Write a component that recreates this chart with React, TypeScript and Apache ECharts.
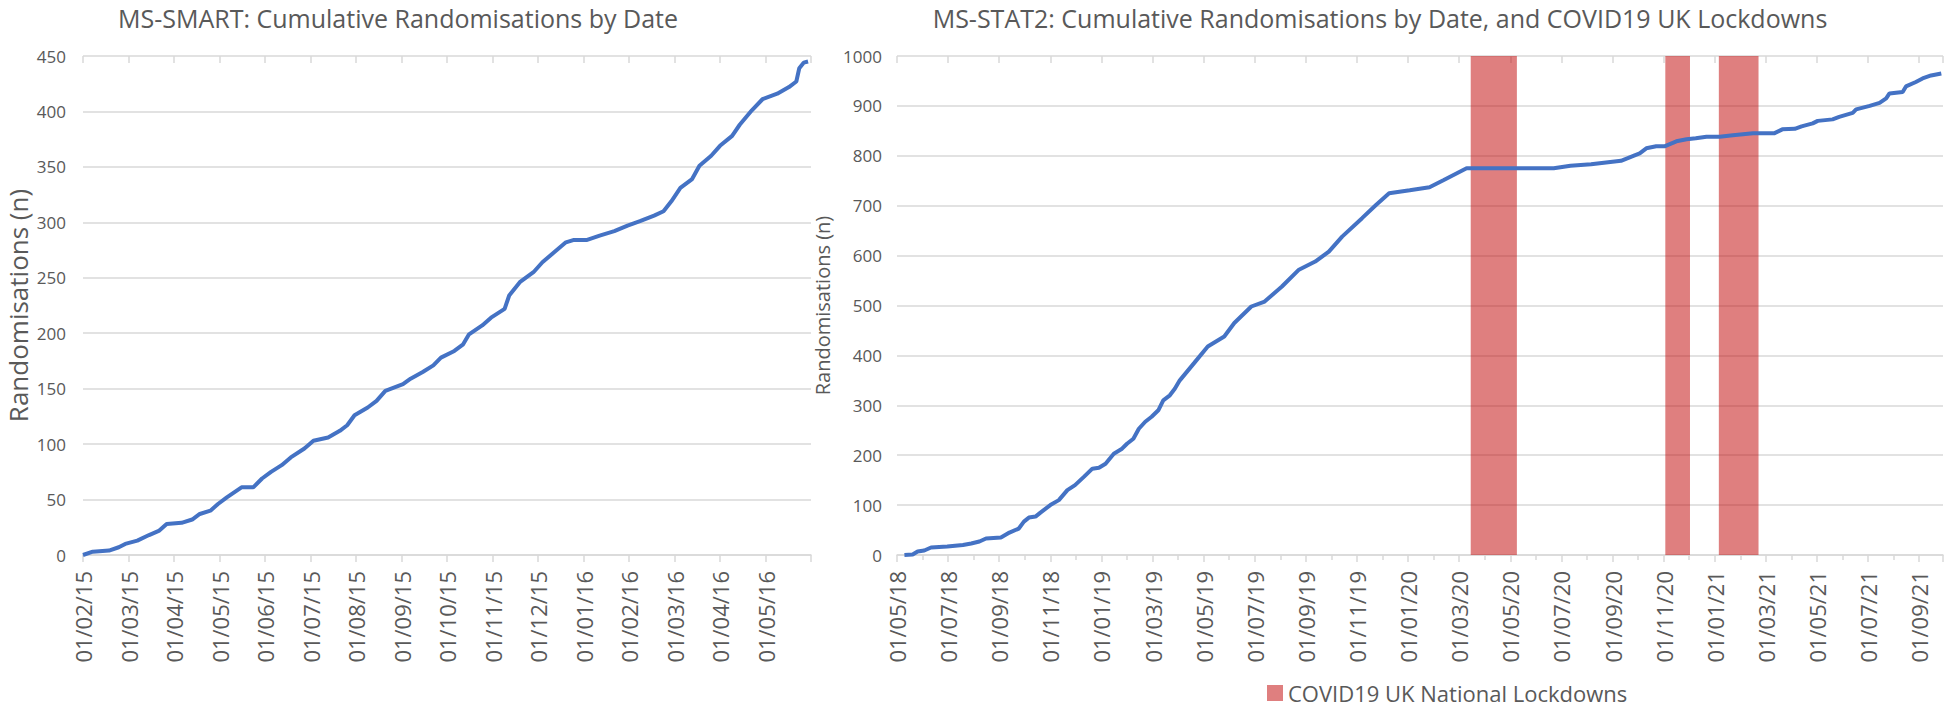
import React, { useEffect, useRef } from 'react';
import * as echarts from 'echarts';

// ---------- Data ----------
const smartTitle = 'MS-SMART: Cumulative Randomisations by Date';
const stat2Title = 'MS-STAT2: Cumulative Randomisations by Date, and COVID19 UK Lockdowns';
const yAxisTitle = 'Randomisations (n)';
const lockdownName = 'COVID19 UK National Lockdowns';

const smartDates = [
  '2015-02-01', '2015-02-07', '2015-02-17', '2015-02-23', '2015-02-27', '2015-03-07', '2015-03-15', '2015-03-22', '2015-03-27', '2015-04-06',
  '2015-04-13', '2015-04-18', '2015-04-25', '2015-04-30', '2015-05-06', '2015-05-16', '2015-05-24', '2015-05-30', '2015-06-05', '2015-06-12',
  '2015-06-18', '2015-06-27', '2015-07-03', '2015-07-13', '2015-07-21', '2015-07-26', '2015-07-31', '2015-08-09', '2015-08-15', '2015-08-21',
  '2015-09-02', '2015-09-07', '2015-09-15', '2015-09-22', '2015-09-27', '2015-10-06', '2015-10-12', '2015-10-16', '2015-10-25', '2015-10-31',
  '2015-11-09', '2015-11-12', '2015-11-19', '2015-11-28', '2015-12-04', '2015-12-12', '2015-12-20', '2015-12-25', '2016-01-03', '2016-01-12',
  '2016-01-22', '2016-01-31', '2016-02-08', '2016-02-17', '2016-02-23', '2016-02-28', '2016-03-05', '2016-03-13', '2016-03-18', '2016-03-26',
  '2016-04-01', '2016-04-09', '2016-04-14', '2016-04-22', '2016-04-29', '2016-05-09', '2016-05-17', '2016-05-22', '2016-05-24', '2016-05-27',
  '2016-05-30',
];
const smartCounts = [
  0, 3, 4, 7, 10, 13, 18, 22, 28, 29,
  32, 37, 40, 46, 52, 61, 61, 69, 75, 81,
  88, 96, 103, 106, 112, 117, 126, 133, 139, 148,
  154, 159, 165, 171, 178, 184, 190, 199, 207, 214,
  222, 234, 246, 255, 264, 273, 282, 284, 284, 288,
  292, 297, 301, 306, 310, 319, 331, 339, 351, 360,
  369, 378, 388, 401, 411, 416, 422, 427, 439, 444,
  445,
];

const stat2Dates = [
  '2018-05-10', '2018-05-20', '2018-05-26', '2018-06-03', '2018-06-11', '2018-06-30', '2018-07-19', '2018-07-29', '2018-08-08', '2018-08-16',
  '2018-09-03', '2018-09-13', '2018-09-24', '2018-09-30', '2018-10-06', '2018-10-14', '2018-10-20', '2018-11-01', '2018-11-11', '2018-11-21',
  '2018-11-30', '2018-12-11', '2018-12-21', '2018-12-29', '2019-01-06', '2019-01-16', '2019-01-26', '2019-02-01', '2019-02-08', '2019-02-14',
  '2019-02-21', '2019-02-28', '2019-03-08', '2019-03-14', '2019-03-22', '2019-03-28', '2019-04-03', '2019-04-20', '2019-05-06', '2019-05-26',
  '2019-06-07', '2019-06-27', '2019-07-13', '2019-08-03', '2019-08-23', '2019-09-12', '2019-09-28', '2019-10-14', '2019-11-07', '2019-11-23',
  '2019-12-09', '2020-01-03', '2020-01-27', '2020-02-12', '2020-03-10', '2020-04-23', '2020-06-22', '2020-07-12', '2020-08-06', '2020-09-11',
  '2020-09-27', '2020-10-03', '2020-10-11', '2020-10-23', '2020-11-02', '2020-11-16', '2020-11-28', '2020-12-09', '2020-12-22', '2021-01-07',
  '2021-01-23', '2021-02-15', '2021-03-11', '2021-03-21', '2021-04-05', '2021-04-13', '2021-04-26', '2021-05-02', '2021-05-20', '2021-05-28',
  '2021-06-13', '2021-06-17', '2021-07-03', '2021-07-15', '2021-07-23', '2021-07-27', '2021-08-12', '2021-08-16', '2021-08-28', '2021-09-05',
  '2021-09-15', '2021-09-27',
];
const stat2Counts = [
  0, 1, 7, 9, 15, 17, 20, 23, 27, 33,
  35, 45, 53, 67, 75, 77, 85, 100, 110, 130,
  140, 157, 173, 175, 183, 203, 213, 223, 233, 253,
  267, 277, 290, 310, 320, 333, 350, 385, 418, 438,
  465, 498, 508, 538, 571, 588, 608, 638, 675, 701,
  725, 731, 737, 751, 775, 775, 775, 780, 783, 790,
  801, 805, 815, 819, 819, 829, 833, 835, 838, 838,
  841, 845, 845, 853, 854, 859, 865, 870, 873, 878,
  886, 893, 900, 906, 915, 925, 928, 939, 948, 955,
  961, 965,
];

const lockdownStarts = ['2020-03-15', '2020-11-03', '2021-01-06'];
const lockdownEnds = ['2020-05-09', '2020-12-02', '2021-02-21'];

const smartAxisStart = '2015-02-01';
const smartAxisEnd = '2016-06-01';
const stat2AxisStart = '2018-05-01';
const stat2AxisEnd = '2021-09-29';

const smartYMax = 450;
const smartYStep = 50;
const stat2YMax = 1000;
const stat2YStep = 100;

// ---------- Helpers ----------
// Convert a date to a fractional month index (months since Jan 2000)
function monthIndex(s: string): number {
  const [y, m, d] = s.split('-').map(Number);
  const dim = new Date(Date.UTC(y, m, 0)).getUTCDate();
  return (y - 2000) * 12 + (m - 1) + (d - 1) / dim;
}
const pad = (n: number) => (n < 10 ? '0' + n : '' + n);
function makeFormatter(maxIdx: number) {
  return (v: number) => {
    const r = Math.round(v);
    if (Math.abs(v - r) > 1e-6 || r >= maxIdx) return '';
    const y = Math.floor(r / 12);
    const m = r - y * 12 + 1;
    return `01/${pad(m)}/${pad(y % 100)}`;
  };
}

const GRID_COLOR = '#D9D9D9';
const TEXT_COLOR = '#595959';
const LINE_COLOR = '#4472C4';
const LOCK_COLOR = 'rgba(192,0,0,0.5)';
const FONT = "'Open Sans', 'Noto Sans', sans-serif";

export default function App() {
  const ref = useRef<HTMLDivElement>(null);

  useEffect(() => {
    if (!ref.current) return;
    const chart = echarts.init(ref.current, undefined, { renderer: 'svg' });

    const sMin = monthIndex(smartAxisStart);
    const sMax = monthIndex(smartAxisEnd);
    const tMin = monthIndex(stat2AxisStart);
    const tMax = monthIndex(stat2AxisEnd);

    const smartData = smartDates.map((d, i) => [monthIndex(d), smartCounts[i]]);
    const stat2Data = stat2Dates.map((d, i) => [monthIndex(d), stat2Counts[i]]);
    const lockAreas = lockdownStarts.map((s, i) => [
      { xAxis: monthIndex(s) },
      { xAxis: monthIndex(lockdownEnds[i]) },
    ]);

    const baseX = (grid: number, min: number, max: number, interval: number) => ({
      type: 'value',
      gridIndex: grid,
      min,
      max,
      interval,
      axisLine: { show: true, lineStyle: { color: GRID_COLOR, width: 1.5 } },
      axisTick: { show: true, length: 7, lineStyle: { color: GRID_COLOR, width: 1.5 } },
      splitLine: { show: false },
    });

    const option: any = {
      animation: false,
      textStyle: { fontFamily: FONT },
      title: [
        {
          text: smartTitle,
          left: 398,
          top: 5,
          textAlign: 'center',
          padding: 0,
          textStyle: { fontSize: 25, fontWeight: 'normal', color: TEXT_COLOR, fontFamily: FONT },
        },
        {
          text: stat2Title,
          left: 1380,
          top: 5,
          textAlign: 'center',
          padding: 0,
          textStyle: { fontSize: 25, fontWeight: 'normal', color: TEXT_COLOR, fontFamily: FONT },
        },
      ],
      legend: {
        data: [lockdownName],
        left: 1267,
        top: 682,
        padding: 0,
        icon: 'rect',
        itemWidth: 16,
        itemHeight: 16,
        textStyle: { fontSize: 22, color: TEXT_COLOR, fontFamily: FONT },
      },
      grid: [
        { left: 83, top: 56, width: 728, height: 499 },
        { left: 897, top: 56, width: 1046, height: 499 },
      ],
      xAxis: [
        {
          ...baseX(0, sMin, sMax, 1),
          axisLabel: {
            rotate: 90,
            margin: 16,
            fontSize: 22,
            color: TEXT_COLOR,
            fontFamily: FONT,
            formatter: makeFormatter(Math.round(sMax)),
          },
        },
        {
          ...baseX(1, tMin, tMax, 2),
          minorTick: { show: true, splitNumber: 2, length: 5, lineStyle: { color: GRID_COLOR, width: 1.5 } },
          axisLabel: {
            rotate: 90,
            margin: 16,
            fontSize: 22,
            color: TEXT_COLOR,
            fontFamily: FONT,
            formatter: makeFormatter(1e9),
          },
        },
        {
          ...baseX(0, sMin, sMax, 1),
          axisLine: { show: false },
          axisTick: { show: true, inside: true, length: 7, lineStyle: { color: GRID_COLOR, width: 1.5 } },
          axisLabel: { show: false },
        },
        {
          ...baseX(1, tMin, tMax, 2),
          axisLine: { show: false },
          axisTick: { show: true, inside: true, length: 7, lineStyle: { color: GRID_COLOR, width: 1.5 } },
          axisLabel: { show: false },
        },
      ],
      yAxis: [
        {
          type: 'value',
          gridIndex: 0,
          min: 0,
          max: smartYMax,
          interval: smartYStep,
          name: yAxisTitle,
          nameLocation: 'middle',
          nameGap: 52,
          nameTextStyle: { fontSize: 26, color: TEXT_COLOR, fontFamily: FONT },
          axisLine: { show: false },
          axisTick: { show: false },
          axisLabel: { fontSize: 17, color: TEXT_COLOR, margin: 17, fontFamily: FONT, formatter: (v: number) => String(v) },
          splitLine: { lineStyle: { color: GRID_COLOR, width: 1.5 } },
        },
        {
          type: 'value',
          gridIndex: 1,
          min: 0,
          max: stat2YMax,
          interval: stat2YStep,
          name: yAxisTitle,
          nameLocation: 'middle',
          nameGap: 62,
          nameTextStyle: { fontSize: 20, color: TEXT_COLOR, fontFamily: FONT },
          axisLine: { show: false },
          axisTick: { show: false },
          axisLabel: { fontSize: 17, color: TEXT_COLOR, margin: 15, fontFamily: FONT, formatter: (v: number) => String(v) },
          splitLine: { lineStyle: { color: GRID_COLOR, width: 1.5 } },
        },
      ],
      series: [
        {
          name: 'MS-SMART',
          type: 'line',
          xAxisIndex: 0,
          yAxisIndex: 0,
          data: smartData,
          showSymbol: false,
          lineStyle: { color: LINE_COLOR, width: 4 },
          itemStyle: { color: LINE_COLOR },
          z: 3,
        },
        {
          name: lockdownName,
          type: 'line',
          xAxisIndex: 1,
          yAxisIndex: 1,
          data: [],
          itemStyle: { color: LOCK_COLOR },
          lineStyle: { color: LOCK_COLOR },
          markArea: {
            silent: true,
            itemStyle: { color: LOCK_COLOR },
            data: lockAreas,
          },
          z: 1,
        },
        {
          name: 'MS-STAT2',
          type: 'line',
          xAxisIndex: 1,
          yAxisIndex: 1,
          data: stat2Data,
          showSymbol: false,
          lineStyle: { color: LINE_COLOR, width: 4 },
          itemStyle: { color: LINE_COLOR },
          z: 3,
        },
      ],
    };

    chart.setOption(option);
    return () => chart.dispose();
  }, []);

  return (
    <div
      ref={ref}
      style={{ position: 'fixed', left: 0, top: 0, width: 1952, height: 708, background: '#fff' }}
    />
  );
}
